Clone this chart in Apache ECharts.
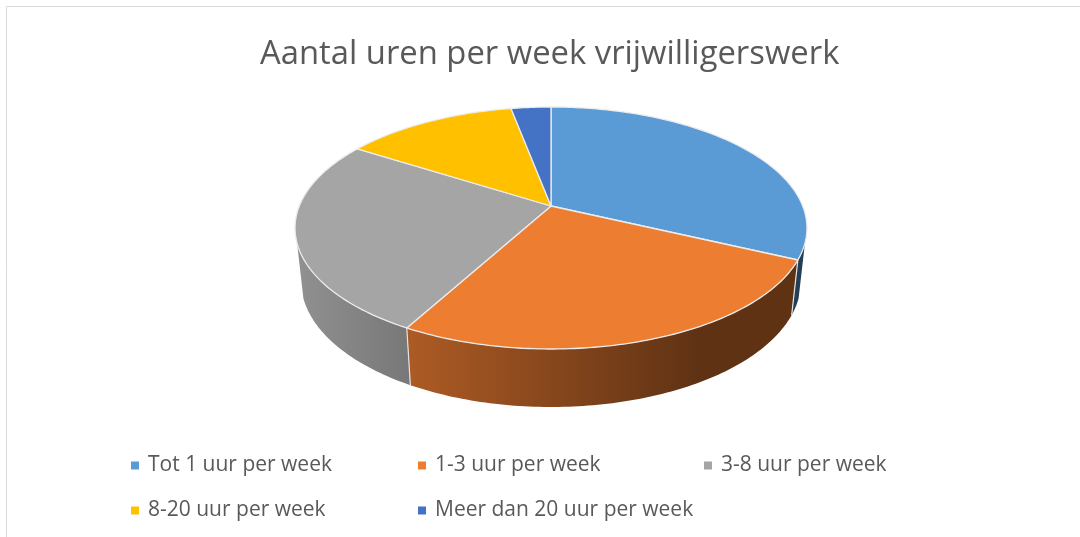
<!DOCTYPE html>
<html>
<head>
<meta charset="utf-8">
<style>
  html, body { margin: 0; padding: 0; background: #fff; }
  #main { width: 1080px; height: 537px; }
</style>
<script src="https://cdn.jsdelivr.net/npm/echarts@6/dist/echarts.min.js"></script>
</head>
<body>
<div id="main"></div>
<script>
var categories = ['Tot 1 uur per week', '1-3 uur per week', '3-8 uur per week', '8-20 uur per week', 'Meer dan 20 uur per week'];
var values = [32, 26, 26, 13, 3];
var colors = ['#5B9BD5', '#ED7D31', '#A5A5A5', '#FFC000', '#4472C4'];
var chartTitle = 'Aantal uren per week vrijwilligerswerk';

var fontName = '"Open Sans", sans-serif';
var total = values.reduce(function (a, b) { return a + b; }, 0);

// the 3d look: a circle put through a perspective, k is how strong it is
var pie = { cx: 551, cy: 206, rx: 251.7, ry: 117, k: 0.1818 };
var rim = { cy: 281, rx: 250, ry: 126, shrink: 0.975 };
// the wall is only seen between these two angles
var wallFrom = 107.5 / 180 * Math.PI;
var wallTo = 252.5 / 180 * Math.PI;

function topPoint(t) {
  var x0 = Math.sin(t), y0 = -Math.cos(t), w = 1 - pie.k * y0;
  return [pie.cx + pie.rx * x0 / w, pie.cy + pie.ry * y0 / w];
}
function bottomPoint(t) {
  var x0 = Math.sin(t), y0 = -Math.cos(t), w = 1 - pie.k * y0;
  var dx = rim.shrink * pie.rx * x0 / w;
  var u = dx / rim.rx;
  var side = y0 > pie.k ? 1 : -1;
  return [pie.cx + dx, rim.cy + side * rim.ry * Math.sqrt(Math.max(0, 1 - u * u))];
}
function arc(fn, a, b) {
  var pts = [], n = Math.max(2, Math.ceil(Math.abs(b - a) * 60));
  for (var i = 0; i <= n; i++) pts.push(fn(a + (b - a) * i / n));
  return pts;
}
function shade(hex, f) {
  var c = echarts.color.parse(hex);
  return 'rgb(' + Math.round(c[0] * f) + ',' + Math.round(c[1] * f) + ',' + Math.round(c[2] * f) + ')';
}
// side wall gets darker from left to right
function wallFill(hex) {
  return new echarts.graphic.LinearGradient(296, 0, 807, 0, [
    { offset: 0, color: shade(hex, 0.88) },
    { offset: 0.22, color: shade(hex, 0.73) },
    { offset: 0.79, color: shade(hex, 0.4) },
    { offset: 1, color: shade(hex, 0.4) }
  ], true);
}

function sliceItem(index) {
  return function (params, api) {
    var before = 0;
    for (var i = 0; i < index; i++) before += values[i];
    var a = before / total * Math.PI * 2;
    var b = (before + api.value(0)) / total * Math.PI * 2;
    var children = [];
    var wa = Math.max(a, wallFrom), wb = Math.min(b, wallTo);
    if (wa < wb) {
      children.push({
        type: 'polygon',
        z2: 1,
        shape: { points: arc(topPoint, wa, wb).concat(arc(bottomPoint, wb, wa)) },
        style: { fill: wallFill(colors[index]) }
      });
    }
    if (a >= wallFrom && a <= wallTo) {
      children.push({
        type: 'polyline',
        z2: 2,
        shape: { points: [topPoint(a), bottomPoint(a)] },
        style: { fill: null, stroke: '#e4e4e4', lineWidth: 1.2 }
      });
    }
    children.push({
      type: 'polygon',
      z2: 3,
      shape: { points: [[pie.cx, pie.cy]].concat(arc(topPoint, a, b)) },
      style: { fill: colors[index], stroke: '#ececec', lineWidth: 1.3, lineJoin: 'round' }
    });
    return { type: 'group', children: children };
  };
}

var legendLeft = [131, 418, 704, 131, 418];
var legendTop = [455, 455, 455, 500, 500];

var chart = echarts.init(document.getElementById('main'));
chart.setOption({
  animation: false,
  backgroundColor: '#fff',
  title: {
    text: chartTitle,
    left: 260,
    top: 38,
    padding: 0,
    textStyle: { fontFamily: fontName, fontSize: 32.8, fontWeight: 'normal', color: '#595959' }
  },
  legend: categories.map(function (name, i) {
    return {
      data: [name],
      left: legendLeft[i],
      top: legendTop[i],
      padding: 0,
      icon: 'rect',
      itemWidth: 8,
      itemHeight: 8,
      selectedMode: false,
      textStyle: { fontFamily: fontName, fontSize: 21, color: '#595959', padding: [0, 0, 0, 4] }
    };
  }),
  series: categories.map(function (name, i) {
    return {
      type: 'custom',
      name: name,
      coordinateSystem: 'none',
      silent: true,
      itemStyle: { color: colors[i] },
      data: [[values[i]]],
      renderItem: sliceItem(i)
    };
  }),
  graphic: [
    { type: 'line', shape: { x1: 6.5, y1: 6.5, x2: 1080, y2: 6.5 }, style: { stroke: '#d9d9d9', lineWidth: 1 } },
    { type: 'line', shape: { x1: 6.5, y1: 6.5, x2: 6.5, y2: 537 }, style: { stroke: '#d9d9d9', lineWidth: 1 } }
  ]
});
window.addEventListener('resize', function () {
  chart.resize();
});
</script>
</body>
</html>
